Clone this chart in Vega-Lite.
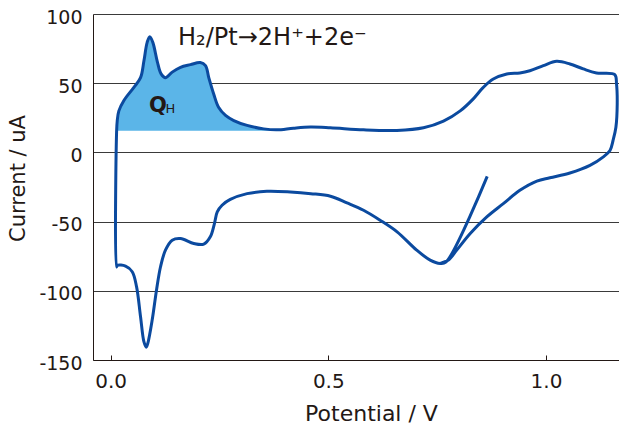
{
  "$schema": "https://vega.github.io/schema/vega-lite/v6.json",
  "autosize": "none",
  "width": 526,
  "height": 346,
  "padding": {"left": 93, "top": 14, "right": 0, "bottom": 64},
  "background": "white",
  "config": {
    "view": {"stroke": null},
    "font": "DejaVu Sans",
    "axis": {
      "labelFont": "DejaVu Sans",
      "titleFont": "DejaVu Sans",
      "labelColor": "#231815",
      "titleColor": "#231815",
      "domainColor": "#231815",
      "tickColor": "#231815",
      "gridColor": "#3a3a3a",
      "gridOpacity": 1,
      "labelFontSize": 19,
      "titleFontSize": 21,
      "titleFontWeight": "normal"
    }
  },
  "datasets": {
    "cv": [
      {"o": 1, "v": 0.865, "i": -17.3},
      {"o": 2, "v": 0.770, "i": -79.3},
      {"o": 3, "v": 0.757, "i": -80.2},
      {"o": 4, "v": 0.734, "i": -77.8},
      {"o": 5, "v": 0.703, "i": -70.6},
      {"o": 6, "v": 0.658, "i": -57.4},
      {"o": 7, "v": 0.619, "i": -49.0},
      {"o": 8, "v": 0.581, "i": -41.8},
      {"o": 9, "v": 0.543, "i": -36.5},
      {"o": 10, "v": 0.505, "i": -31.7},
      {"o": 11, "v": 0.460, "i": -29.8},
      {"o": 12, "v": 0.413, "i": -28.6},
      {"o": 13, "v": 0.359, "i": -28.1},
      {"o": 14, "v": 0.3135, "i": -29.8},
      {"o": 15, "v": 0.275, "i": -34.0},
      {"o": 16, "v": 0.256, "i": -38.2},
      {"o": 17, "v": 0.245, "i": -43.0},
      {"o": 18, "v": 0.2385, "i": -51.4},
      {"o": 19, "v": 0.229, "i": -61.0},
      {"o": 20, "v": 0.214, "i": -66.3},
      {"o": 21, "v": 0.191, "i": -65.8},
      {"o": 22, "v": 0.1606, "i": -62.2},
      {"o": 23, "v": 0.1415, "i": -63.4},
      {"o": 24, "v": 0.126, "i": -70.6},
      {"o": 25, "v": 0.1147, "i": -82.6},
      {"o": 26, "v": 0.1055, "i": -99.4},
      {"o": 27, "v": 0.0956, "i": -121.0},
      {"o": 28, "v": 0.0856, "i": -137.8},
      {"o": 29, "v": 0.082, "i": -140.7},
      {"o": 30, "v": 0.0765, "i": -136.7},
      {"o": 31, "v": 0.0688, "i": -118.7},
      {"o": 32, "v": 0.0596, "i": -97.0},
      {"o": 33, "v": 0.0497, "i": -86.2},
      {"o": 34, "v": 0.0344, "i": -82.1},
      {"o": 35, "v": 0.0153, "i": -81.6},
      {"o": 36, "v": 0.0135, "i": -82.8},
      {"o": 37, "v": 0.0138, "i": 15.0},
      {"o": 38, "v": 0.0153, "i": 23.0},
      {"o": 39, "v": 0.019, "i": 30.0},
      {"o": 40, "v": 0.0306, "i": 37.5},
      {"o": 41, "v": 0.0535, "i": 47.0},
      {"o": 42, "v": 0.0688, "i": 54.0},
      {"o": 43, "v": 0.0765, "i": 66.0},
      {"o": 44, "v": 0.084, "i": 79.5},
      {"o": 45, "v": 0.090, "i": 83.6},
      {"o": 46, "v": 0.097, "i": 79.5},
      {"o": 47, "v": 0.107, "i": 66.0},
      {"o": 48, "v": 0.116, "i": 56.7},
      {"o": 49, "v": 0.126, "i": 54.0},
      {"o": 50, "v": 0.1415, "i": 58.0},
      {"o": 51, "v": 0.1606, "i": 61.5},
      {"o": 52, "v": 0.1835, "i": 63.4},
      {"o": 53, "v": 0.206, "i": 65.0},
      {"o": 54, "v": 0.218, "i": 62.7},
      {"o": 55, "v": 0.2255, "i": 54.0},
      {"o": 56, "v": 0.237, "i": 42.0},
      {"o": 57, "v": 0.248, "i": 32.6},
      {"o": 58, "v": 0.264, "i": 26.7},
      {"o": 59, "v": 0.283, "i": 23.0},
      {"o": 60, "v": 0.3135, "i": 19.5},
      {"o": 61, "v": 0.3517, "i": 17.0},
      {"o": 62, "v": 0.382, "i": 16.3},
      {"o": 63, "v": 0.42, "i": 17.5},
      {"o": 64, "v": 0.459, "i": 18.3},
      {"o": 65, "v": 0.5046, "i": 17.8},
      {"o": 66, "v": 0.581, "i": 16.3},
      {"o": 67, "v": 0.6575, "i": 15.9},
      {"o": 68, "v": 0.7186, "i": 17.8},
      {"o": 69, "v": 0.7645, "i": 22.6},
      {"o": 70, "v": 0.803, "i": 30.0},
      {"o": 71, "v": 0.833, "i": 38.7},
      {"o": 72, "v": 0.856, "i": 47.0},
      {"o": 73, "v": 0.879, "i": 53.0},
      {"o": 74, "v": 0.91, "i": 56.7},
      {"o": 75, "v": 0.94, "i": 57.4},
      {"o": 76, "v": 0.963, "i": 59.0},
      {"o": 77, "v": 0.994, "i": 62.7},
      {"o": 78, "v": 1.0245, "i": 65.8},
      {"o": 79, "v": 1.055, "i": 63.9},
      {"o": 80, "v": 1.0856, "i": 60.3},
      {"o": 81, "v": 1.116, "i": 57.4},
      {"o": 82, "v": 1.158, "i": 56.2},
      {"o": 83, "v": 1.162, "i": 49.5},
      {"o": 84, "v": 1.1636, "i": 35.0},
      {"o": 85, "v": 1.1606, "i": 18.2},
      {"o": 86, "v": 1.154, "i": 8.6},
      {"o": 87, "v": 1.147, "i": 1.4},
      {"o": 88, "v": 1.131, "i": -3.4},
      {"o": 89, "v": 1.101, "i": -9.4},
      {"o": 90, "v": 1.055, "i": -14.9},
      {"o": 91, "v": 1.009, "i": -18.3},
      {"o": 92, "v": 0.979, "i": -20.7},
      {"o": 93, "v": 0.940, "i": -27.4},
      {"o": 94, "v": 0.902, "i": -37.0},
      {"o": 95, "v": 0.864, "i": -46.6},
      {"o": 96, "v": 0.826, "i": -58.6},
      {"o": 97, "v": 0.795, "i": -70.6},
      {"o": 98, "v": 0.776, "i": -77.8},
      {"o": 99, "v": 0.757, "i": -80.2}
    ],
    "fill": [
      {"v": 0.0138, "i": 15.7},
      {"v": 0.0153, "i": 23.0},
      {"v": 0.019, "i": 30.0},
      {"v": 0.0306, "i": 37.5},
      {"v": 0.0535, "i": 47.0},
      {"v": 0.0688, "i": 54.0},
      {"v": 0.0765, "i": 66.0},
      {"v": 0.084, "i": 79.5},
      {"v": 0.090, "i": 83.6},
      {"v": 0.097, "i": 79.5},
      {"v": 0.107, "i": 66.0},
      {"v": 0.116, "i": 56.7},
      {"v": 0.126, "i": 54.0},
      {"v": 0.1415, "i": 58.0},
      {"v": 0.1606, "i": 61.5},
      {"v": 0.1835, "i": 63.4},
      {"v": 0.206, "i": 65.0},
      {"v": 0.218, "i": 62.7},
      {"v": 0.2255, "i": 54.0},
      {"v": 0.237, "i": 42.0},
      {"v": 0.248, "i": 32.6},
      {"v": 0.264, "i": 26.7},
      {"v": 0.283, "i": 23.0},
      {"v": 0.3135, "i": 19.5},
      {"v": 0.3517, "i": 17.0},
      {"v": 0.382, "i": 16.3},
      {"v": 0.40, "i": 15.8}
    ],
    "labels": [
      {"v": 0.155, "i": 77.6, "t": "H₂/Pt→2H⁺+2e⁻"},
      {"v": 0.088, "i": 29.4, "t": "Q"},
      {"v": 0.126, "i": 28.5, "t": "H"}
    ]
  },
  "encoding": {
    "x": {
      "field": "v", "type": "quantitative",
      "scale": {"domain": [-0.0404, 1.1677], "nice": false, "zero": false},
      "axis": {
        "title": "Potential / V",
        "values": [0, 0.5, 1.0],
        "format": ".1f",
        "grid": false,
        "tickSize": -5,
        "labelPadding": 16,
        "labelFontSize": 20,
        "titleFontSize": 22,
        "titleX": 278,
        "titleY": 53,
        "titleBaseline": "middle",
        "titleAlign": "center"
      }
    },
    "y": {
      "field": "i", "type": "quantitative",
      "scale": {"domain": [-150, 100], "nice": false, "zero": false},
      "axis": {
        "title": "Current / uA",
        "values": [-150, -100, -50, 0, 50, 100],
        "labelExpr": "'' + datum.value",
        "grid": true,
        "ticks": false,
        "labelPadding": 11,
        "labelOffset": 3,
        "labelFontSize": 19,
        "titleFontSize": 21,
        "titleX": -75,
        "titleY": 164,
        "titleAngle": -90,
        "titleBaseline": "middle",
        "titleAlign": "center"
      }
    }
  },
  "layer": [
    {
      "data": {"name": "fill"},
      "mark": {"type": "area", "color": "#5bb5e8", "interpolate": "catmull-rom", "opacity": 1},
      "encoding": {"y2": {"datum": 15.7}}
    },
    {
      "data": {"name": "cv"},
      "mark": {"type": "line", "color": "#0b4a9f", "strokeWidth": 3, "interpolate": "catmull-rom"},
      "encoding": {"order": {"field": "o", "type": "quantitative"}}
    },
    {
      "data": {"name": "labels"},
      "transform": [{"filter": "datum.t === 'H₂/Pt→2H⁺+2e⁻'"}],
      "mark": {"type": "text", "align": "left", "baseline": "alphabetic", "color": "#231815", "font": "DejaVu Sans", "fontSize": 24},
      "encoding": {"text": {"field": "t"}}
    },
    {
      "data": {"name": "labels"},
      "transform": [{"filter": "datum.t === 'Q'"}],
      "mark": {"type": "text", "align": "left", "baseline": "alphabetic", "color": "#231815", "font": "DejaVu Sans", "fontSize": 21, "fontWeight": "bold"},
      "encoding": {"text": {"field": "t"}}
    },
    {
      "data": {"name": "labels"},
      "transform": [{"filter": "datum.t === 'H'"}],
      "mark": {"type": "text", "align": "left", "baseline": "alphabetic", "color": "#231815", "font": "DejaVu Sans", "fontSize": 13},
      "encoding": {"text": {"field": "t"}}
    }
  ]
}
